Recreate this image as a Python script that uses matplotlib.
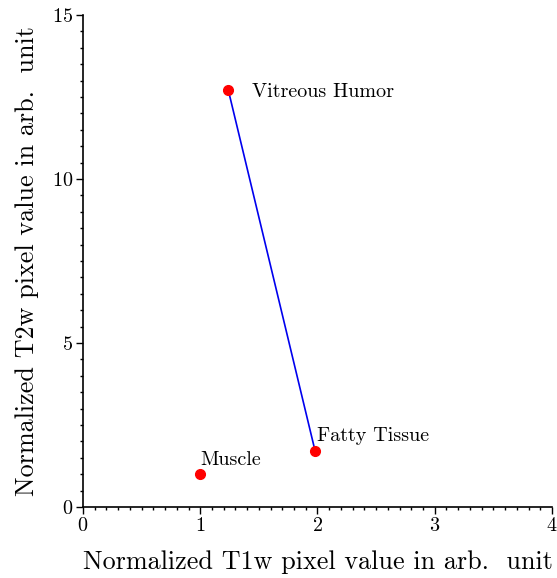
import matplotlib.pyplot as plt
from matplotlib.ticker import MultipleLocator

plt.rcParams['font.family'] = ['cmr10', 'DejaVu Serif']
plt.rcParams['axes.formatter.use_mathtext'] = True

tissues = ['Muscle', 'Vitreous Humor', 'Fatty Tissue']
t1w = [1.0, 1.24, 1.98]
t2w = [1.0, 12.7, 1.7]
# label offsets in points
offsets = [(0, 10), (17, -1.3), (1, 11)]

fig = plt.figure(figsize=(5.57, 5.78), dpi=100)
ax = fig.add_axes([0.149, 0.123, 0.842, 0.851])

ax.plot(t1w[1:], t2w[1:], color='#0000ee', lw=1.2, zorder=2)
ax.plot(t1w, t2w, 'o', color='#ff0000', ms=7, zorder=3)
for name, x, y, off in zip(tissues, t1w, t2w, offsets):
    ax.annotate(name, (x, y), xytext=off, textcoords='offset points',
                ha='left', va='center', fontsize=14.5)

ax.set_xlim(0, 4)
ax.set_ylim(0, 15)
ax.xaxis.set_major_locator(MultipleLocator(1))
ax.xaxis.set_minor_locator(MultipleLocator(0.1))
ax.yaxis.set_major_locator(MultipleLocator(5))
ax.yaxis.set_minor_locator(MultipleLocator(0.5))
ax.tick_params(which='major', length=5, width=1, labelsize=14.5, pad=2)
ax.tick_params(which='minor', length=2.5, width=1)
for s in ['top', 'right']:
    ax.spines[s].set_visible(False)
for s in ['left', 'bottom']:
    ax.spines[s].set_linewidth(1.2)

ax.set_xlabel('Normalized T1w pixel value in arb.  unit', fontsize=18.8, labelpad=11)
ax.set_ylabel('Normalized T2w pixel value in arb.  unit', fontsize=18.8, labelpad=9)

fig.savefig('out.png', dpi=100)
